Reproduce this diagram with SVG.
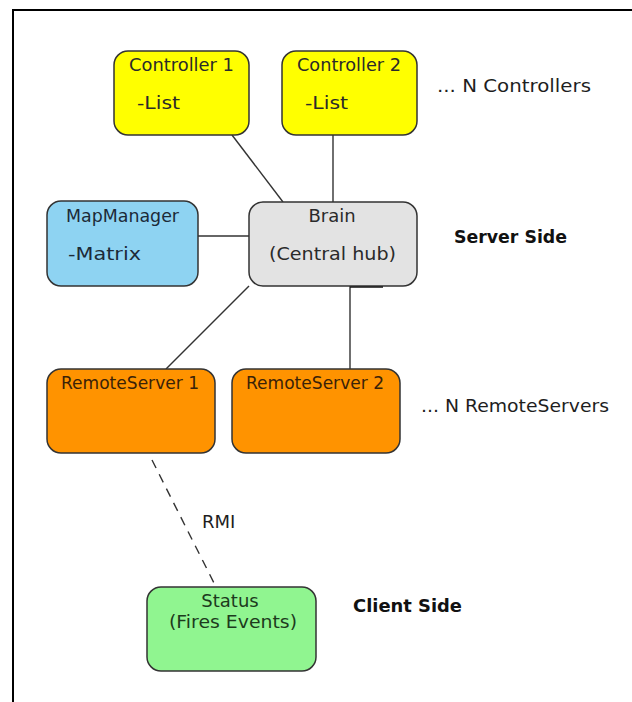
<svg xmlns="http://www.w3.org/2000/svg" width="632" height="702" viewBox="0 0 632 702">
<style>
.box{stroke:#333;stroke-width:1.5}
.t{font-family:"DejaVu Sans","Liberation Sans",sans-serif;font-size:18px;fill:#2a2a2a}
.lbl{font-family:"DejaVu Sans","Liberation Sans",sans-serif;font-size:18px;fill:#1e1e1e}
.b{font-family:"DejaVu Sans","Liberation Sans",sans-serif;font-size:18px;font-weight:bold;fill:#111}
.c{stroke:#333;stroke-width:1.4;fill:none}
</style>
<rect width="632" height="702" fill="#fff"/>
<path d="M13,702 V10 H632" fill="none" stroke="#000" stroke-width="2"/>
<g id="connectors">
<line class="c" x1="232" y1="135" x2="283" y2="202"/>
<line class="c" x1="333" y1="135" x2="333" y2="202"/>
<line class="c" x1="198" y1="236" x2="249" y2="236"/>
<line class="c" x1="249" y1="286" x2="166" y2="369"/>
<line class="c" x1="350" y1="286" x2="350" y2="369"/>
<line x1="350" y1="286.5" x2="383" y2="286.5" stroke="#111" stroke-width="2.5"/>
<line class="c" x1="152" y1="460" x2="216" y2="587" stroke-dasharray="9 7"/>
</g>
<g id="controller1">
<rect class="box" x="114" y="51" width="135" height="84" rx="14" fill="#ffff00"/>
<text class="t" x="129" y="71" textLength="105" lengthAdjust="spacingAndGlyphs">Controller 1</text>
<text class="t" x="137" y="109" textLength="43" lengthAdjust="spacingAndGlyphs">-List</text>
</g>
<g id="controller2">
<rect class="box" x="282" y="51" width="135" height="84" rx="14" fill="#ffff00"/>
<text class="t" x="297" y="71" textLength="104" lengthAdjust="spacingAndGlyphs">Controller 2</text>
<text class="t" x="305" y="109" textLength="43" lengthAdjust="spacingAndGlyphs">-List</text>
</g>
<g id="mapmanager">
<rect class="box" x="47" y="201" width="151" height="85" rx="14" fill="#8ed3f2"/>
<text class="t" x="66" y="222" textLength="113" lengthAdjust="spacingAndGlyphs" style="fill:#1c2a38">MapManager</text>
<text class="t" x="68" y="260" textLength="73" lengthAdjust="spacingAndGlyphs" style="fill:#1c2a38">-Matrix</text>
</g>
<g id="brain">
<rect class="box" x="249" y="202" width="168" height="84" rx="14" fill="#e3e3e3"/>
<text class="t" x="332" y="222" text-anchor="middle">Brain</text>
<text class="t" x="269" y="260" textLength="127" lengthAdjust="spacingAndGlyphs">(Central hub)</text>
</g>
<g id="remoteserver1">
<rect class="box" x="47" y="369" width="168" height="84" rx="14" fill="#ff9300"/>
<text class="t" x="61" y="389" textLength="138" lengthAdjust="spacingAndGlyphs" style="fill:#3a2208">RemoteServer 1</text>
</g>
<g id="remoteserver2">
<rect class="box" x="232" y="369" width="168" height="84" rx="14" fill="#ff9300"/>
<text class="t" x="246" y="389" textLength="138" lengthAdjust="spacingAndGlyphs" style="fill:#3a2208">RemoteServer 2</text>
</g>
<g id="status">
<rect class="box" x="147" y="587" width="169" height="84" rx="14" fill="#90f590"/>
<text class="t" x="230" y="607" text-anchor="middle" style="fill:#1d3a1d">Status</text>
<text class="t" x="169" y="628" textLength="128" lengthAdjust="spacingAndGlyphs" style="fill:#1d3a1d">(Fires Events)</text>
</g>
<g id="labels">
<text class="lbl" x="437" y="92" textLength="154" lengthAdjust="spacingAndGlyphs">... N Controllers</text>
<text class="b" x="454" y="243" textLength="113" lengthAdjust="spacingAndGlyphs">Server Side</text>
<text class="lbl" x="421" y="412" textLength="188" lengthAdjust="spacingAndGlyphs">... N RemoteServers</text>
<text class="lbl" x="202" y="528">RMI</text>
<text class="b" x="353" y="612" textLength="109" lengthAdjust="spacingAndGlyphs">Client Side</text>
</g>
</svg>
